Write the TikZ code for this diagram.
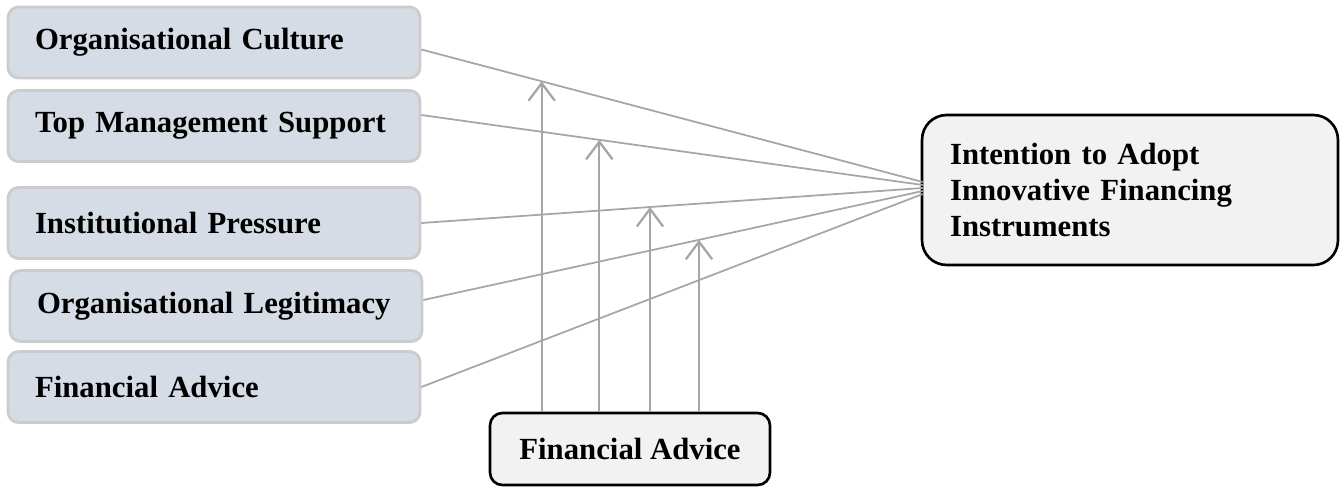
\documentclass[tikz,border=0pt]{standalone}
\usepackage{fontspec}
\setmainfont{Liberation Serif}
\usetikzlibrary{arrows.meta,calc}
\definecolor{boxfill}{HTML}{D6DCE5}
\definecolor{boxline}{HTML}{CCCCCC}
\definecolor{linkgray}{HTML}{A6A6A6}
\definecolor{goalfill}{HTML}{F2F2F2}
\begin{document}
\begin{tikzpicture}[x=0.02cm,y=-0.02cm,
    factor/.style={draw=boxline,fill=boxfill,line width=1.6pt,rounded corners=6pt,
      minimum height=1.42cm,text width=7.16cm,inner xsep=0.54cm,align=left,
      font=\fontsize{17.5}{21}\selectfont\bfseries},
    goalbox/.style={draw=black,fill=goalfill,line width=1.5pt,rounded corners=14pt,
      minimum height=3cm,text width=7.2cm,inner xsep=0.56cm,align=left,
      font=\fontsize{17.5}{20.5}\selectfont\bfseries},
    modbox/.style={draw=black,fill=goalfill,line width=1.5pt,rounded corners=7pt,
      minimum width=5.6cm,minimum height=1.44cm,align=center,
      font=\fontsize{17.5}{21}\selectfont\bfseries},
    link/.style={draw=linkgray,line width=1pt},
    moder/.style={link,line width=1.3pt,-{Straight Barb[length=10pt,width=15pt]}}]
  \useasboundingbox (0,0) rectangle (1343,487);
  \node[factor] (oc) at (214,42.5) {Organisational Culture};
  \node[factor] (tm) at (214,126) {Top Management Support};
  \node[factor] (ip) at (214,223) {Institutional Pressure};
  \node[factor] (ol) at (216,306) {Organisational Legitimacy};
  \node[factor] (fa) at (214,387) {Financial Advice};
  \node[goalbox] (goal) at (1130,190) {Intention to Adopt\\Innovative Financing\\Instruments};
  \node[modbox] (adv) at (630,449) {Financial Advice};
  \coordinate (s1) at ($(oc.east)+(0,7)$);
  \coordinate (s2) at ($(tm.east)+(0,-11)$);
  \coordinate (s3) at (ip.east);
  \coordinate (s4) at ($(ol.east)+(0,-6)$);
  \coordinate (s5) at (fa.east);
  \coordinate (e1) at ($(goal.west)+(2,-8)$);
  \coordinate (e2) at ($(goal.west)+(2,-5)$);
  \coordinate (e3) at ($(goal.west)+(2,-2)$);
  \coordinate (e4) at ($(goal.west)+(2,1)$);
  \coordinate (e5) at ($(goal.west)+(2,4)$);
  \draw[link] (s1) -- (e1);
  \draw[link] (s2) -- (e2);
  \draw[link] (s3) -- (e3);
  \draw[link] (s4) -- (e4);
  \draw[link] (s5) -- (e5);
  \coordinate (m1) at ($(s1)!0.24!(e1)$);
  \coordinate (m2) at ($(s2)!0.355!(e2)$);
  \coordinate (m3) at ($(s3)!0.456!(e3)$);
  \coordinate (m4) at ($(s4)!0.552!(e4)$);
  \draw[moder] (m1 |- adv.north) -- (m1);
  \draw[moder] (m2 |- adv.north) -- (m2);
  \draw[moder] (m3 |- adv.north) -- (m3);
  \draw[moder] (m4 |- adv.north) -- (m4);
\end{tikzpicture}
\end{document}
